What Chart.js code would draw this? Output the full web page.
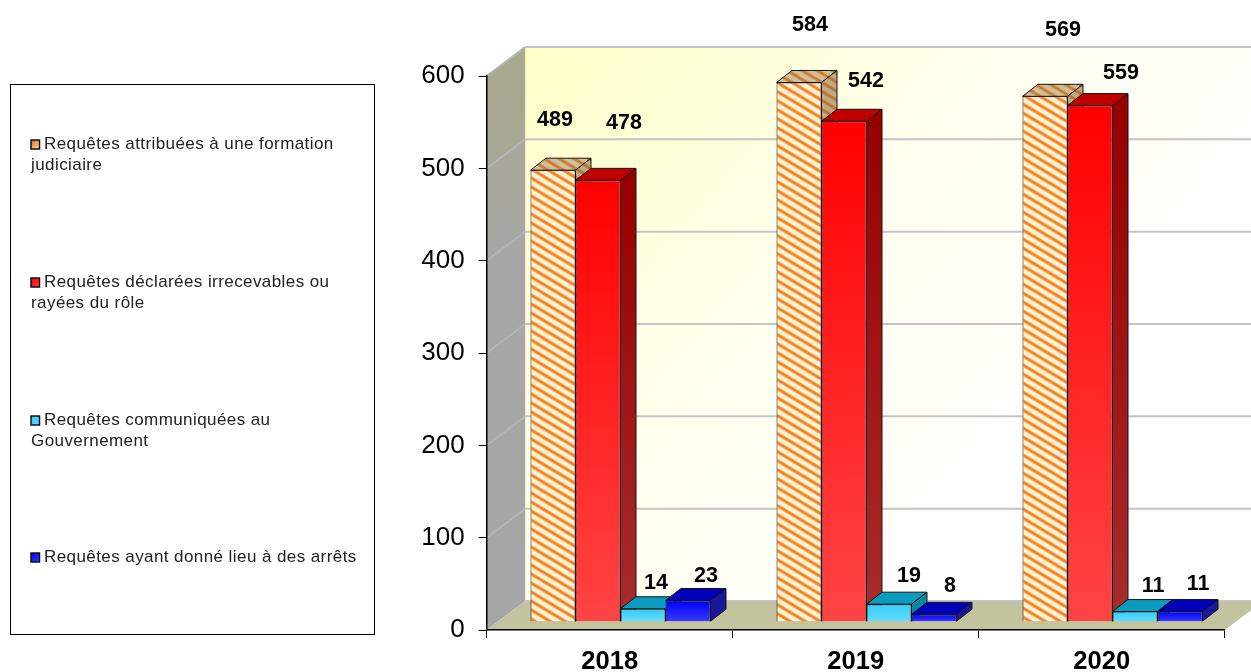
<!DOCTYPE html>
<html lang="fr">
<head>
<meta charset="utf-8">
<title>Requêtes</title>
<script src="https://cdn.jsdelivr.net/npm/chart.js@4"></script>
<style>
  body { margin: 0; background: #fff; overflow: hidden; }
  canvas { display: block; }
</style>
</head>
<body>
<canvas id="graph" width="1251" height="672"></canvas>
<script>
// data
const years = ["2018", "2019", "2020"];
const attribuees = [489, 584, 569];
const irrecevables = [478, 542, 559];
const communiquees = [14, 19, 11];
const arrets = [23, 8, 11];
const yTicks = [0, 100, 200, 300, 400, 500, 600];

const seriesNames = [
    "Requêtes attribuées à une formation\njudiciaire",
    "Requêtes déclarées irrecevables ou\nrayées du rôle",
    "Requêtes communiquées au\nGouvernement",
    "Requêtes ayant donné lieu à des arrêts"
];

// where the value labels sit relative to the top of their bar (one row per series)
const labelOffsets = [
    [[2, -50.5], [11, -57.5], [18, -66.5]],
    [[26, -57.5], [22, -40.5], [31, -32.5]],
    [[13, -25.5], [20, -28.5], [18, -25.5]],
    [[18, -24.5], [16, -28.5], [18, -27.5]]
];

// 3D look
const wallDx = 38.5, wallDy = -29;    // depth of the box
const barDx = 10.8, barDy = -8.3;     // bars stand a bit inside the box
const barDepthX = 15.5, barDepthY = -12;
const FONT = '"Liberation Sans", Arial, sans-serif';

function hatch(back, stripe) {
    const w = 15, h = 9;
    const c = document.createElement("canvas");
    c.width = w; c.height = h;
    const g = c.getContext("2d");
    g.fillStyle = back;
    g.fillRect(0, 0, w, h);
    g.strokeStyle = stripe;
    g.lineWidth = 3;
    for (let k = -1; k <= 1; k++) {
        g.beginPath();
        g.moveTo(-w, -h + k * h);
        g.lineTo(2 * w, 2 * h + k * h);
        g.stroke();
    }
    return document.getElementById("graph").getContext("2d").createPattern(c, "repeat");
}

const orangeFront = hatch("#fff2d4", "#f5801e");
const orangeTop = hatch("#cdc29c", "#cf7a2e");
const orangeSide = hatch("#b9ae8a", "#c4702a");

function barFill(top, bottom) {
    return function(context) {
        const chart = context.chart;
        if (!chart.scales.y || context.parsed === undefined) return top;
        const y = chart.scales.y;
        const y1 = y.getPixelForValue(context.parsed.y), y2 = y.getPixelForValue(0);
        if (!isFinite(y1) || !isFinite(y2)) return top;
        const grad = chart.ctx.createLinearGradient(0, y1, 0, y2);
        grad.addColorStop(0, top);
        grad.addColorStop(1, bottom);
        return grad;
    };
}

const topColors = [orangeTop, "#c00000", "#0a9cc0", "#0000b8"];
const sideColors = [orangeSide, ["#980000", "#a82c2c"], "#0a86a6", "#18189c"];
const swatchColors = [["#f06010", "#fff0b0"], ["#ff0000", "#ff4040"], ["#33ccff", "#66ddff"], ["#0000ff", "#3d3dff"]];

function poly(ctx, pts, fill, stroke) {
    ctx.beginPath();
    ctx.moveTo(pts[0][0], pts[0][1]);
    for (let i = 1; i < pts.length; i++) ctx.lineTo(pts[i][0], pts[i][1]);
    ctx.closePath();
    ctx.fillStyle = fill;
    ctx.fill();
    if (stroke) {
        ctx.strokeStyle = stroke;
        ctx.lineWidth = 1;
        ctx.stroke();
    }
}

// walls, floor and grid of the 3D box
const boxPlugin = {
    id: "box",
    beforeDraw(chart) {
        const ctx = chart.ctx;
        const x = chart.scales.x, y = chart.scales.y;
        const left = x.left, right = x.right;
        const y0 = y.getPixelForValue(0), yTop = y.getPixelForValue(600);

        const back = ctx.createLinearGradient(left + wallDx, yTop + wallDy, left + 560, yTop + 420);
        back.addColorStop(0, "#ffffc8");
        back.addColorStop(0.55, "#fffff0");
        back.addColorStop(1, "#ffffff");
        ctx.fillStyle = back;
        ctx.fillRect(left + wallDx, yTop + wallDy, right - left, y0 - yTop);

        const side = ctx.createLinearGradient(left + wallDx, yTop + wallDy, left - 20, yTop + 170);
        side.addColorStop(0, "#a9a98a");
        side.addColorStop(1, "#a6a6a6");
        poly(ctx, [[left, yTop], [left + wallDx, yTop + wallDy], [left + wallDx, y0 + wallDy], [left, y0]], side);

        poly(ctx, [[left, y0], [left + wallDx, y0 + wallDy], [right + wallDx, y0 + wallDy], [right, y0]], "#c3c3a0");

        ctx.lineWidth = 2;
        yTicks.forEach(function(v) {
            const py = y.getPixelForValue(v);
            if (v > 0) {
                ctx.strokeStyle = "#b4b4b4";
                ctx.beginPath();
                ctx.moveTo(left, py);
                ctx.lineTo(left + wallDx, py + wallDy);
                ctx.stroke();
            }
            ctx.strokeStyle = "#c4c4c4";
            ctx.beginPath();
            ctx.moveTo(left + wallDx, py + wallDy);
            ctx.lineTo(right + wallDx, py + wallDy);
            ctx.stroke();
        });
    },
    // chart.js paints the last dataset first, here the bars have to go left to right
    beforeDatasetsDraw(chart) {
        const ctx = chart.ctx;
        ctx.save();
        ctx.translate(barDx, barDy);
        chart.data.datasets.forEach(function(ds, i) {
            const meta = chart.getDatasetMeta(i);
            meta.data.forEach(function(bar) {
                const l = bar.x - bar.width / 2, r = bar.x + bar.width / 2;
                let sideFill = sideColors[i];
                if (Array.isArray(sideFill)) {
                    const grad = ctx.createLinearGradient(0, bar.y, 0, bar.base);
                    grad.addColorStop(0, sideFill[0]);
                    grad.addColorStop(1, sideFill[1]);
                    sideFill = grad;
                }
                poly(ctx, [[l, bar.y], [l + barDepthX, bar.y + barDepthY], [r + barDepthX, bar.y + barDepthY], [r, bar.y]], topColors[i], "#141414");
                poly(ctx, [[r, bar.y], [r + barDepthX, bar.y + barDepthY], [r + barDepthX, bar.base + barDepthY], [r, bar.base]], sideFill, "#141414");
            });
            meta.controller.draw();
        });
        ctx.fillStyle = "#000";
        ctx.font = "bold 21.5px " + FONT;
        ctx.textAlign = "center";
        ctx.textBaseline = "middle";
        chart.data.datasets.forEach(function(ds, i) {
            chart.getDatasetMeta(i).data.forEach(function(bar, j) {
                ctx.fillText(String(ds.data[j]), bar.x + labelOffsets[i][j][0], bar.y + labelOffsets[i][j][1]);
            });
        });
        ctx.restore();
        return false;
    },
    afterDraw(chart) {
        // legend box on the left
        const ctx = chart.ctx;
        ctx.fillStyle = "#fff";
        ctx.fillRect(10.5, 84.5, 364, 550);
        ctx.strokeStyle = "#000";
        ctx.lineWidth = 1;
        ctx.strokeRect(10.5, 84.5, 364, 550);
        const rows = [144.5, 282.5, 420.5, 557.5];
        ctx.font = "17px " + FONT;
        ctx.letterSpacing = "0.42px";
        ctx.textAlign = "left";
        ctx.textBaseline = "middle";
        seriesNames.forEach(function(name, i) {
            const grad = ctx.createLinearGradient(31, rows[i] - 4, 40, rows[i] + 5);
            grad.addColorStop(0, swatchColors[i][0]);
            grad.addColorStop(1, swatchColors[i][1]);
            ctx.fillStyle = grad;
            ctx.fillRect(31, rows[i] - 4.5, 8.5, 9);
            ctx.strokeStyle = "#111";
            ctx.lineWidth = 1.5;
            ctx.strokeRect(31, rows[i] - 4.5, 8.5, 9);
            ctx.fillStyle = "#222";
            name.split("\n").forEach(function(line, k) {
                ctx.fillText(line, k === 0 ? 44 : 31, rows[i] + k * 21);
            });
        });
        ctx.letterSpacing = "0px";
    }
};

const config = {
    type: "bar",
    data: {
        labels: years,
        datasets: [
            { label: seriesNames[0], data: attribuees, backgroundColor: orangeFront },
            { label: seriesNames[1], data: irrecevables, backgroundColor: barFill("#ff0000", "#ff4444") },
            { label: seriesNames[2], data: communiquees, backgroundColor: barFill("#33ccff", "#66ddff") },
            { label: seriesNames[3], data: arrets, backgroundColor: barFill("#0000ff", "#3a3aff") }
        ]
    },
    options: {
        responsive: false,
        animation: false,
        clip: false,
        layout: { padding: { top: 76, right: 26.3, left: 0, bottom: 0 } },
        categoryPercentage: 0.7317,
        barPercentage: 1,
        elements: { bar: { borderColor: "#141414", borderWidth: 1 } },
        plugins: { legend: { display: false }, tooltip: { enabled: false } },
        scales: {
            x: {
                afterFit(scale) { scale.height = 42; },
                grid: { drawOnChartArea: false, color: "#000", tickLength: 8 },
                border: { color: "#000", width: 1.5 },
                ticks: { color: "#000", font: { family: FONT, size: 25.5, weight: "bold" }, padding: 9, maxRotation: 0 }
            },
            y: {
                min: 0,
                max: 600,
                afterFit(scale) { scale.width = 486.7; },
                grid: { drawOnChartArea: false, color: "#000", tickLength: 8 },
                border: { color: "#000", width: 1.5 },
                ticks: { color: "#000", font: { family: FONT, size: 26 }, padding: 14, stepSize: 100 }
            }
        }
    },
    plugins: [boxPlugin]
};

new Chart(document.getElementById("graph"), config);
</script>
</body>
</html>
